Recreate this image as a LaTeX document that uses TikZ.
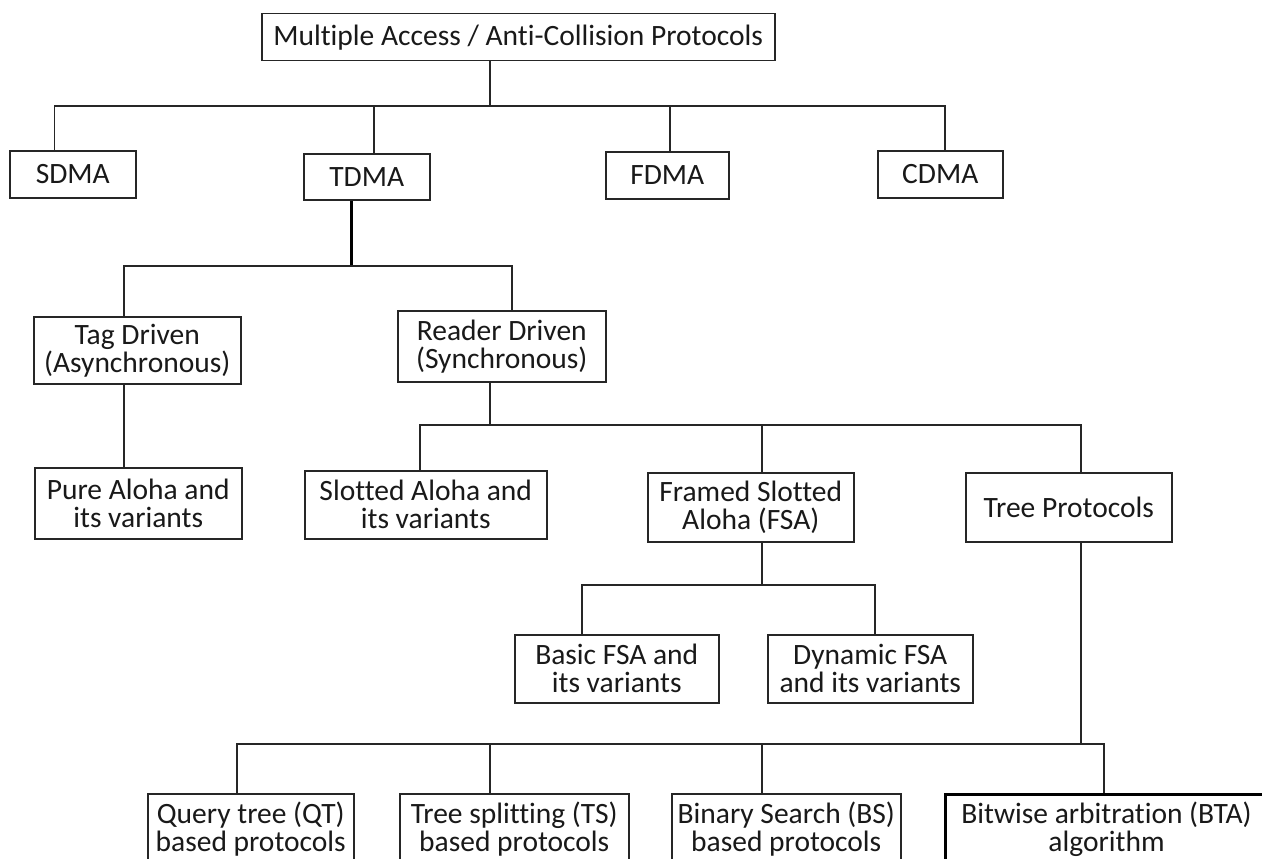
\documentclass[tikz,border=0pt]{standalone}
\usepackage{fontspec}
\setmainfont{Carlito}[Ligatures=NoCommon]
\begin{document}
\begin{tikzpicture}[x=1pt,y=-1pt,
  box/.style={draw=black!85, line width=1.5pt, anchor=north west, align=center,
    inner sep=0pt, text=black!90, font=\fontsize{29.5}{28}\selectfont},
  conn/.style={draw=black!85, line width=1.5pt},
  thickconn/.style={draw=black, line width=3pt}]
\useasboundingbox (0,0) rectangle (1262,859);
\fill[white] (0,0) rectangle (1262,859);
\clip (0,0) rectangle (1262,859);

\node[box, minimum width=513pt, minimum height=47pt] (top) at (261,13) {Multiple Access / Anti-Collision Protocols};
\node[box, minimum width=126pt, minimum height=47pt] (sdma) at (9,150) {SDMA};
\node[box, minimum width=126pt, minimum height=46pt] (tdma) at (303,153) {TDMA};
\node[box, minimum width=123pt, minimum height=47pt] (fdma) at (605,151) {FDMA};
\node[box, minimum width=125pt, minimum height=47pt] (cdma) at (877,150) {CDMA};
\node[box, minimum width=207pt, minimum height=67pt] (tag) at (33,316) {Tag Driven\\(Asynchronous)};
\node[box, minimum width=208pt, minimum height=71pt] (reader) at (397,310) {Reader Driven\\(Synchronous)};
\node[box, minimum width=207pt, minimum height=71pt] (pure) at (34,467) {Pure Aloha and\\its variants};
\node[box, minimum width=242pt, minimum height=68pt] (slotted) at (304,470) {Slotted Aloha and\\its variants};
\node[box, minimum width=206pt, minimum height=69pt] (fsa) at (647,472) {Framed Slotted\\Aloha (FSA)};
\node[box, minimum width=206pt, minimum height=69pt] (tree) at (965,472) {Tree Protocols};
\node[box, minimum width=204pt, minimum height=68pt] (basic) at (514,634) {Basic FSA and\\its variants};
\node[box, minimum width=205pt, minimum height=68pt] (dynamic) at (767,634) {Dynamic FSA\\and its variants};
\node[box, minimum width=206pt, minimum height=70pt] (qt) at (147,793) {Query tree (QT)\\based protocols};
\node[box, minimum width=229pt, minimum height=70pt] (ts) at (399,793) {Tree splitting (TS)\\based protocols};
\node[box, minimum width=229pt, minimum height=70pt] (bs) at (671,793) {Binary Search (BS)\\based protocols};
\node[box, line width=3pt, draw=black, minimum width=322pt, minimum height=70pt] (bta) at (944,793) {Bitwise arbitration (BTA)\\algorithm};

% level 1
\coordinate (bus1) at (490,106);
\draw[conn] (top.south -| bus1) -- (bus1);
\draw[conn] (sdma.north -| 54.5,0) -- (54.5,106) -- (945,106) -- (cdma.north -| 945,0);
\draw[conn] (tdma.north -| 374,0) -- (374,106);
\draw[conn] (fdma.north -| 670,0) -- (670,106);

% TDMA
\draw[thickconn] (tdma.south -| 351,0) -- (351,266);
\draw[conn] (tag.north -| 124,0) -- (124,266) -- (512,266) -- (reader.north -| 512,0);

% Tag driven
\draw[conn] (tag.south -| 124,0) -- (pure.north -| 124,0);

% Reader driven
\draw[conn] (reader.south -| 490,0) -- (490,425);
\draw[conn] (slotted.north -| 420,0) -- (420,425) -- (1081,425) -- (tree.north -| 1081,0);
\draw[conn] (fsa.north -| 762,0) -- (762,425);

% FSA
\draw[conn] (fsa.south -| 762,0) -- (762,585);
\draw[conn] (basic.north -| 582,0) -- (582,585) -- (875,585) -- (dynamic.north -| 875,0);

% Tree
\draw[conn] (tree.south -| 1081,0) -- (1081,744);
\draw[conn] (qt.north -| 237,0) -- (237,744) -- (1104,744) -- (bta.north -| 1104,0);
\draw[conn] (ts.north -| 490,0) -- (490,744);
\draw[conn] (bs.north -| 762,0) -- (762,744);
\end{tikzpicture}
\end{document}
